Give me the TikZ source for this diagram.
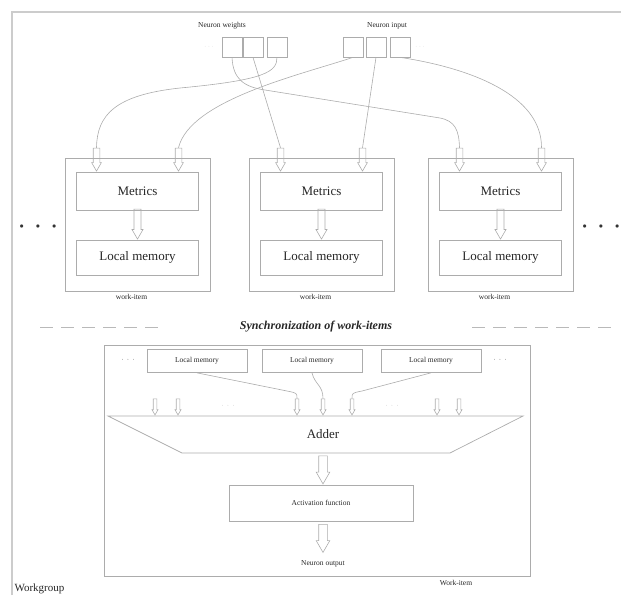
\documentclass[tikz,border=0pt]{standalone}
\usepackage{fontspec}
\setmainfont{Liberation Serif}
\usetikzlibrary{shapes.arrows,positioning}

\tikzset{
  grayline/.style={draw=gray!65, line width=0.7pt},
  box/.style={grayline, inner sep=0pt, text=black!85},
  cell/.style={box, minimum width=20pt, minimum height=20pt},
  smalltext/.style={font=\fontsize{7.5}{9}\selectfont, text=black!85},
  bigtext/.style={font=\fontsize{13}{15}\selectfont, text=black!85},
  harrow/.style={single arrow, draw=gray!65, line width=0.6pt, shape border rotate=270,
    anchor=tip, single arrow tip angle=60, single arrow head indent=0pt},
  inarrow/.style={harrow, minimum height=23pt, inner sep=3pt, single arrow head extend=1.6pt},
  midarrow/.style={harrow, minimum height=30pt, inner sep=3.2pt, single arrow head extend=2pt},
  bigarrow/.style={harrow, minimum height=#1, inner sep=4pt, single arrow head extend=2.5pt},
  tinyarrow/.style={harrow, minimum height=16pt, inner sep=1.5pt, single arrow head extend=1.2pt},
  feed/.style={draw=gray!65, line width=0.6pt},
  dashline/.style={draw=gray!55, line width=0.8pt, dash pattern=on 13pt off 8pt},
}

\begin{document}
\begin{tikzpicture}[x=1pt,y=-1pt]
\useasboundingbox (0,0) rectangle (621,595);
\draw[draw=gray!40, line width=1.3pt] (12,595) -- (12,12) -- (621,12);

% neuron weights and input
\foreach \i/\x in {1/232,2/253,3/277}
  \node[cell] (w\i) at (\x,47) {};
\foreach \i/\x in {1/353,2/376,3/400}
  \node[cell] (in\i) at (\x,47) {};
\node[smalltext] (wlabel) at (222,26) {Neuron weights};
\node[smalltext] (inlabel) at (387,26) {Neuron input};
\node[smalltext, text=gray!35] (wdots) at (209,47) {$\cdots$};
\node[smalltext, text=gray!35] (indots) at (420,47) {$\cdots$};

% work-items
\foreach \i/\x in {1/137.5,2/321.5,3/500.5}
{
\node[box, minimum width=145pt, minimum height=133pt] (wi\i) at (\x,224.5) {};
\node[box, bigtext, minimum width=122pt, minimum height=38pt] (m\i) at (\x,191) {Metrics};
\node[box, bigtext, minimum width=122pt, minimum height=35pt] (lm\i) at (\x,257.5) {Local memory};
\node[midarrow] (d\i) at (lm\i.north) {};
\node[inarrow] (al\i) at ([xshift=-41pt]m\i.north) {};
\node[inarrow] (ar\i) at ([xshift=41pt]m\i.north) {};
\node[smalltext] (wil\i) at (\x-6,297) {work-item};
}
\node[font=\fontsize{8}{9}\selectfont, text=black!80] (ldots) at (38,227) {$\bullet$\hspace{12pt}$\bullet$\hspace{12pt}$\bullet$};
\node[font=\fontsize{8}{9}\selectfont, text=black!80] (rdots) at (601,227) {$\bullet$\hspace{12pt}$\bullet$\hspace{12pt}$\bullet$};

\draw[feed] (w1.south) .. controls (233,80) and (245,87) .. (265,90)
  -- (440,118) .. controls (455,121) and (459,130) .. (al3.tail);
\draw[feed] (w3.south) .. controls (277,72) and (265,80) .. (180,88)
  .. controls (115,95) and (97,115) .. (al1.tail);
\draw[feed] (in1.south) .. controls (300,75) and (190,100) .. (ar1.tail);
\draw[feed] (w2.south) -- (al2.tail);
\draw[feed] (in2.south) -- (ar2.tail);
\draw[feed] (in3.south) .. controls (470,68) and (542,95) .. (ar3.tail);

% synchronization
\node[font=\bfseries\itshape\fontsize{12}{14}\selectfont, text=black!85] (sync) at (316,327) {Synchronization of work-items};
\draw[dashline] (40,327) -- (160,327);
\draw[dashline] (472,327) -- (612,327);

% work-item of the workgroup
\node[box, minimum width=426pt, minimum height=231pt] (wg) at (317,460.5) {};
\foreach \i/\x in {1/197,2/312,3/431}
  \node[box, smalltext, minimum width=100pt, minimum height=23pt] (lb\i) at (\x,361) {Local memory};
\node[smalltext] (lbl) at (128,360) {$\cdot\,\cdot\,\cdot$};
\node[smalltext] (lbr) at (500,360) {$\cdot\,\cdot\,\cdot$};
\foreach \i/\x in {1/155,2/178,3/297,4/323,5/352,6/437,7/459}
  \node[tinyarrow] (s\i) at (\x,415.5) {};
\node[smalltext, text=gray!60] (sdl) at (228,406) {$\cdot\,\cdot\,\cdot$};
\node[smalltext, text=gray!60] (sdr) at (392,406) {$\cdot\,\cdot\,\cdot$};
\draw[feed] (lb1.south) -- (287,391) .. controls (297,393) .. (s3.tail);
\draw[feed] (lb2.south) .. controls (315,385) and (323,385) .. (s4.tail);
\draw[feed] (lb3.south) -- (362,391) .. controls (352,393) .. (s5.tail);

\draw[grayline] (108,416) -- (523,416) -- (450,453) -- (182,453) -- cycle;
\node[bigtext] (adder) at (323,434) {Adder};
\node[bigarrow=28pt] (sum) at (323,484.5) {};
\node[box, smalltext, minimum width=184pt, minimum height=36pt] (act) at (321,503) {Activation function};
\node[bigarrow=28pt] (out) at (323,553) {};
\node[smalltext] (outl) at (323,564) {Neuron output};
\node[smalltext] (wit) at (456,583) {Work-item};
\node[font=\fontsize{11}{13}\selectfont, text=black!85, anchor=west] (wgl) at (11,589) {Workgroup};
\end{tikzpicture}
\end{document}
